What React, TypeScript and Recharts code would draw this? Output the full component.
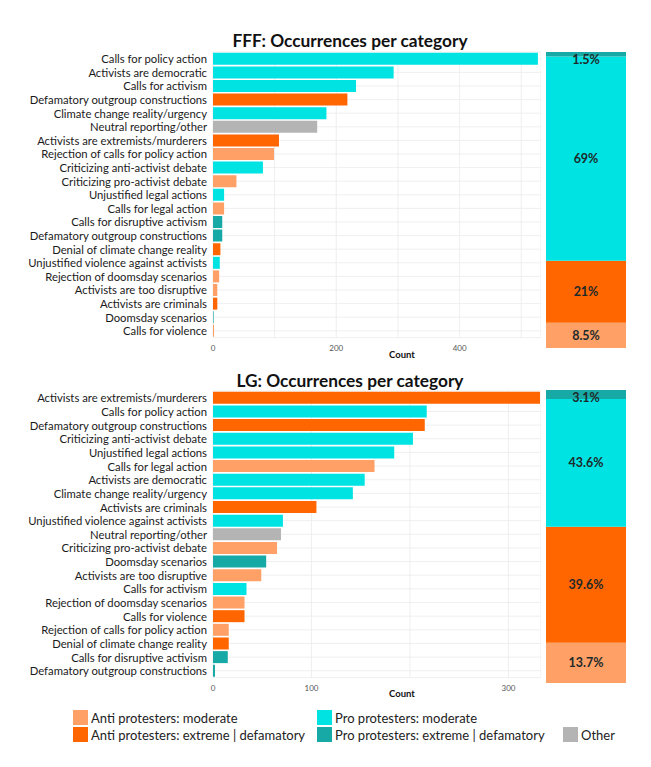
import React from 'react';
import { BarChart, Bar, XAxis, YAxis, CartesianGrid, Cell, LabelList } from 'recharts';

const FONT = 'Lato, "Open Sans", sans-serif';

const COLORS: Record<string, string> = {
  am: '#FFA066',
  ae: '#FF6600',
  pm: '#00E3E3',
  pe: '#17A9A5',
  o: '#B4B4B4',
};

// ---------- FFF ----------
const fffCategories = [
  'Calls for policy action',
  'Activists are democratic',
  'Calls for activism',
  'Defamatory outgroup constructions',
  'Climate change reality/urgency',
  'Neutral reporting/other',
  'Activists are extremists/murderers',
  'Rejection of calls for policy action',
  'Criticizing anti-activist debate',
  'Criticizing pro-activist debate',
  'Unjustified legal actions',
  'Calls for legal action',
  'Calls for disruptive activism',
  'Defamatory outgroup constructions',
  'Denial of climate change reality',
  'Unjustified violence against activists',
  'Rejection of doomsday scenarios',
  'Activists are too disruptive',
  'Activists are criminals',
  'Doomsday scenarios',
  'Calls for violence',
];
const fffCounts = [527, 293, 232, 218, 184, 169, 107, 99, 81, 38, 18, 18, 15, 15, 12, 11, 10, 7, 7, 1, 1];
const fffGroups = ['pm', 'pm', 'pm', 'ae', 'pm', 'o', 'ae', 'am', 'pm', 'am', 'pm', 'am', 'pe', 'pe', 'ae', 'pm', 'am', 'am', 'ae', 'pe', 'ae'];
const fffGridTicks = [0, 100, 200, 300, 400, 500];
const fffTickLabels = [0, 200, 400];
const fffShares = [8.5, 21, 69, 1.5]; // am, ae, pm, pe (bottom to top)

// ---------- LG ----------
const lgCategories = [
  'Activists are extremists/murderers',
  'Calls for policy action',
  'Defamatory outgroup constructions',
  'Criticizing anti-activist debate',
  'Unjustified legal actions',
  'Calls for legal action',
  'Activists are democratic',
  'Climate change reality/urgency',
  'Activists are criminals',
  'Unjustified violence against activists',
  'Neutral reporting/other',
  'Criticizing pro-activist debate',
  'Doomsday scenarios',
  'Activists are too disruptive',
  'Calls for activism',
  'Rejection of doomsday scenarios',
  'Calls for violence',
  'Rejection of calls for policy action',
  'Denial of climate change reality',
  'Calls for disruptive activism',
  'Defamatory outgroup constructions',
];
const lgCounts = [332, 217, 215, 203, 184, 164, 154, 142, 105, 71, 69, 65, 54, 49, 34, 32, 32, 16, 16, 15, 2];
const lgGroups = ['ae', 'pm', 'ae', 'pm', 'pm', 'am', 'pm', 'pm', 'ae', 'pm', 'o', 'am', 'pe', 'am', 'pm', 'am', 'ae', 'am', 'ae', 'pe', 'pe'];
const lgGridTicks = [0, 100, 200, 300];
const lgTickLabels = [0, 100, 300];
const lgShares = [13.7, 39.6, 43.6, 3.1];

const shareKeys = ['am', 'ae', 'pm', 'pe'];

const legendItems = [
  { key: 'am', label: 'Anti protesters: moderate' },
  { key: 'pm', label: 'Pro protesters: moderate' },
  { key: 'ae', label: 'Anti protesters: extreme | defamatory' },
  { key: 'pe', label: 'Pro protesters: extreme | defamatory' },
  { key: 'o', label: 'Other' },
];

type CatProps = {
  categories: string[];
  counts: number[];
  groups: string[];
  domainMax: number;
  gridTicks: number[];
  tickLabels: number[];
  plotTop: number;
  plotBottom: number;
  tickOffset: number;
};

function CategoryChart(p: CatProps) {
  const data = p.categories.map((c, i) => ({ key: String(i), name: c, count: p.counts[i], group: p.groups[i] }));
  const chartTop = p.plotTop - 10;
  const axisH = 24;
  const height = p.plotBottom - chartTop + axisH;
  const XTick = (t: any) => {
    const v = t.payload.value;
    if (!p.tickLabels.includes(v)) return <g />;
    return (
      <text
        x={t.x}
        y={p.plotBottom - chartTop + p.tickOffset}
        textAnchor="middle"
        dominantBaseline="central"
        fontSize={8}
        fill="#555555"
        fontFamily={FONT}
      >
        {String(v)}
      </text>
    );
  };
  const YTick = (t: any) => (
    <text
      x={t.x}
      y={t.y}
      textAnchor="end"
      dominantBaseline="central"
      fontSize={11.3}
      fill="#1A1A1A"
      fontFamily={FONT}
    >
      {p.categories[Number(t.payload.value)]}
    </text>
  );
  return (
    <div style={{ position: 'absolute', left: 0, top: chartTop }}>
      <BarChart
        layout="vertical"
        width={541}
        height={height}
        data={data}
        margin={{ top: p.plotTop - chartTop, right: 0, left: 0, bottom: 0 }}
        barCategoryGap="6%"
      >
        <CartesianGrid stroke="#EBEBEB" strokeWidth={0.8} />
        <XAxis
          type="number"
          domain={[0, p.domainMax]}
          ticks={p.gridTicks}
          allowDataOverflow
          axisLine={false}
          tickLine={false}
          tickSize={0}
          height={axisH}
          interval={0}
          tick={XTick}
        />
        <YAxis
          type="category"
          dataKey="key"
          width={213}
          axisLine={false}
          tickLine={false}
          tickSize={0}
          tickMargin={6}
          interval={0}
          tick={YTick}
        />
        <Bar dataKey="count" isAnimationActive={false}>
          {data.map((d) => (
            <Cell key={d.key} fill={COLORS[d.group]} />
          ))}
        </Bar>
      </BarChart>
    </div>
  );
}

function ShareLabel(props: any) {
  const { x, y, width, height, value } = props;
  const cy = height < 16 ? y + 7.5 : y + height / 2;
  return (
    <text
      x={x + width / 2}
      y={cy}
      textAnchor="middle"
      dominantBaseline="central"
      fontFamily={FONT}
      fontWeight={700}
      fontSize={12.5}
      fill="#1E2A2A"
    >
      {`${value}%`}
    </text>
  );
}

function ShareChart({ shares, top, height }: { shares: number[]; top: number; height: number }) {
  const row: Record<string, any> = { name: 'share' };
  shareKeys.forEach((k, i) => (row[k] = shares[i]));
  return (
    <div style={{ position: 'absolute', left: 546, top }}>
      <BarChart width={80} height={height} data={[row]} margin={{ top: 0, right: 0, left: 0, bottom: 0 }} barCategoryGap={0}>
        <XAxis dataKey="name" hide />
        <YAxis type="number" domain={[0, 100]} hide />
        {shareKeys.map((k) => (
          <Bar key={k} dataKey={k} stackId="s" fill={COLORS[k]} isAnimationActive={false}>
            <LabelList dataKey={k} content={ShareLabel} />
          </Bar>
        ))}
      </BarChart>
    </div>
  );
}

const titleStyle: React.CSSProperties = {
  position: 'absolute',
  left: 150,
  width: 400,
  textAlign: 'center',
  fontFamily: FONT,
  fontWeight: 700,
  fontSize: 17.3,
  color: '#111',
  lineHeight: '20px',
};

const countStyle: React.CSSProperties = {
  position: 'absolute',
  left: 352,
  width: 100,
  textAlign: 'center',
  fontFamily: FONT,
  fontWeight: 700,
  fontSize: 9.5,
  color: '#111',
  lineHeight: '12px',
};

export default function App() {
  const legendPos: Record<string, { x: number; y: number }> = {
    am: { x: 73, y: 710 },
    pm: { x: 317, y: 710 },
    ae: { x: 73, y: 727 },
    pe: { x: 317, y: 727 },
    o: { x: 563, y: 727 },
  };
  return (
    <div style={{ position: 'absolute', left: 0, top: 0, width: 651, height: 767, background: '#fff', overflow: 'hidden' }}>
      <div style={{ ...titleStyle, top: 31 }}>FFF: Occurrences per category</div>
      <CategoryChart
        categories={fffCategories}
        counts={fffCounts}
        groups={fffGroups}
        domainMax={532}
        gridTicks={fffGridTicks}
        tickLabels={fffTickLabels}
        plotTop={52}
        plotBottom={337.6}
        tickOffset={10}
      />
      <ShareChart shares={fffShares} top={52} height={296} />
      <div style={{ ...countStyle, top: 349 }}>Count</div>

      <div style={{ ...titleStyle, top: 371 }}>LG: Occurrences per category</div>
      <CategoryChart
        categories={lgCategories}
        counts={lgCounts}
        groups={lgGroups}
        domainMax={333}
        gridTicks={lgGridTicks}
        tickLabels={lgTickLabels}
        plotTop={390.9}
        plotBottom={677.5}
        tickOffset={10.8}
      />
      <ShareChart shares={lgShares} top={390} height={293} />
      <div style={{ ...countStyle, top: 688 }}>Count</div>

      {legendItems.map((it) => (
        <div
          key={it.key}
          style={{
            position: 'absolute',
            left: legendPos[it.key].x,
            top: legendPos[it.key].y,
            height: 15,
            display: 'flex',
            alignItems: 'center',
            fontFamily: FONT,
            fontSize: 13,
            color: '#222',
            whiteSpace: 'nowrap',
          }}
        >
          <span style={{ display: 'inline-block', width: 15, height: 15, background: COLORS[it.key], marginRight: 3 }} />
          <span>{it.label}</span>
        </div>
      ))}
    </div>
  );
}
